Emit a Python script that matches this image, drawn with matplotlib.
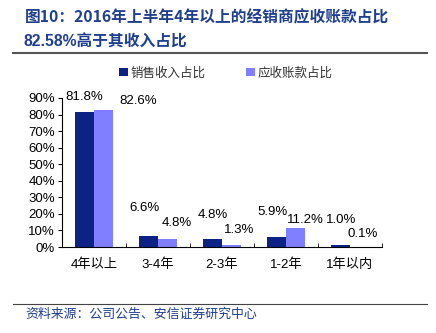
import matplotlib
matplotlib.use('Agg')
import matplotlib.pyplot as plt
import numpy as np

plt.rcParams['font.family'] = ['Liberation Sans', 'Noto Sans CJK SC', 'DejaVu Sans']

categories = ['4年以上', '3-4年', '2-3年', '1-2年', '1年以内']
sales_share = [81.8, 6.6, 4.8, 5.9, 1.0]
receivable_share = [82.6, 4.8, 1.3, 11.2, 0.1]
yticks = [0, 10, 20, 30, 40, 50, 60, 70, 80, 90]

# label offsets from bar tops, in pixels
sales_off = [(0, 15), (-4, 28), (0, 24), (-4, 25), (1, 25)]
recv_off = [(35, 9), (9, 16), (8, 15), (10, 8), (3, 13)]

dark = '#0c2284'
light = '#7f7fff'
blue_text = '#1f3f8f'

fig = plt.figure(figsize=(4.36, 3.33), dpi=100)
ax = fig.add_axes([62/436, 1-247/333, 320/436, 149/333])

x = np.arange(len(categories))
w = 0.3
b1 = ax.bar(x - w/2, sales_share, w, color=dark, label='销售收入占比')
b2 = ax.bar(x + w/2, receivable_share, w, color=light, label='应收账款占比')

for bar, v, off in zip(b1, sales_share, sales_off):
    ax.annotate(f'{v:.1f}%', (bar.get_x() + bar.get_width()/2, v),
                xytext=off, textcoords='offset pixels',
                ha='center', va='center', fontsize=9.5)
for bar, v, off in zip(b2, receivable_share, recv_off):
    ax.annotate(f'{v:.1f}%', (bar.get_x() + bar.get_width()/2, v),
                xytext=off, textcoords='offset pixels',
                ha='center', va='center', fontsize=9.5)

ax.set_xlim(-0.5, len(categories) - 0.5)
ax.set_ylim(0, 90)
ax.set_yticks(yticks)
ax.set_yticklabels([f'{t}%' for t in yticks], fontsize=9.5)
ax.set_xticks(x)
ax.set_xticklabels(categories, fontsize=9.5)
ax.tick_params(axis='x', length=0, pad=8)
ax.set_xticks(np.arange(len(categories) + 1) - 0.5, minor=True)
ax.tick_params(axis='x', which='minor', direction='in', length=3)
ax.tick_params(axis='y', direction='out', length=3, pad=2)
for s in ['top', 'right']:
    ax.spines[s].set_visible(False)

leg = ax.legend(loc='center left', bbox_to_anchor=(0.178, 1.168), ncol=2,
                frameon=False, handlelength=0.7, handleheight=0.7,
                handletextpad=0.25, columnspacing=3.2, borderpad=0,
                borderaxespad=0, prop={'family': ['Noto Sans CJK SC'], 'size': 9})
for t in leg.get_texts():
    t.set_color('#333333')

fig.text(25/436, 1-17/333, '图10：2016年上半年4年以上的经销商应收账款占比',
         fontsize=11.3, fontweight='bold', color=blue_text, va='center',
         family=['Noto Sans CJK SC'])
fig.text(23/436, 1-42/333, '82.58%高于其收入占比',
         fontsize=11.3, fontweight='bold', color=blue_text, va='center',
         family=['Liberation Sans', 'Noto Sans CJK SC'])
fig.add_artist(plt.Line2D([13/436, 427/436], [1-53/333, 1-53/333], color='#555555', lw=1.5))
fig.add_artist(plt.Line2D([13/436, 427/436], [1-304/333, 1-304/333], color='#444444', lw=0.8))
fig.text(25/436, 1-314/333, '资料来源：公司公告、安信证券研究中心',
         fontsize=9.3, style='italic', color=blue_text, va='center',
         family=['Noto Sans CJK SC'])

fig.savefig('out.png', dpi=100)
